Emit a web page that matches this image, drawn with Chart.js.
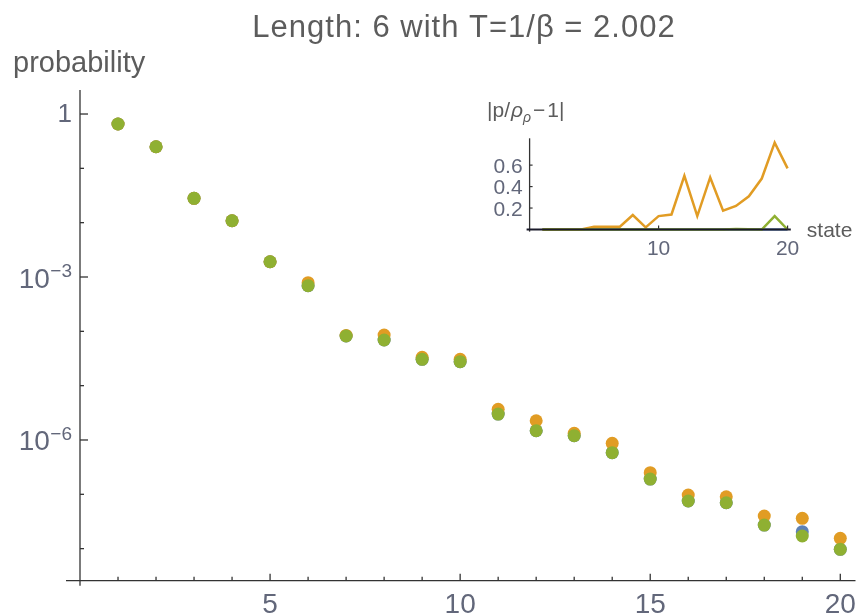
<!DOCTYPE html>
<html>
<head>
<meta charset="utf-8">
<script src="https://cdn.jsdelivr.net/npm/chart.js@4/dist/chart.umd.min.js"></script>
<style>
html,body{margin:0;padding:0;background:#fff;}
#wrap{position:relative;width:862px;height:616px;overflow:hidden;}
#main{position:absolute;left:0;top:0;}
#inset{position:absolute;left:440px;top:90px;}
</style>
</head>
<body>
<div id="wrap">
<canvas id="main" width="862" height="616"></canvas>
<canvas id="inset" width="422" height="180"></canvas>
</div>
<script>
// ---------- data ----------
const states = [1,2,3,4,5,6,7,8,9,10,11,12,13,14,15,16,17,18,19,20];

// probabilities (main log plot)
const pBlue   = [0.655,0.25,0.0281,0.01086,0.00191,6.92e-4,8.2e-5,6.92e-5,3.05e-5,2.76e-5,3.0e-6,1.48e-6,1.2e-6,5.83e-7,1.91e-7,7.53e-8,7.0e-8,2.72e-8,2.05e-8,9.7e-9];
const pOrange = [0.655,0.25,0.0281,0.01086,0.00191,7.85e-4,8.4e-5,8.55e-5,3.33e-5,3.05e-5,3.67e-6,2.26e-6,1.33e-6,8.69e-7,2.5e-7,9.7e-8,9.0e-8,3.99e-8,3.61e-8,1.55e-8];
const pGreen  = [0.655,0.25,0.0281,0.01086,0.00191,6.92e-4,8.2e-5,6.92e-5,3.05e-5,2.76e-5,3.0e-6,1.48e-6,1.2e-6,5.83e-7,1.91e-7,7.53e-8,7.0e-8,2.72e-8,1.71e-8,9.7e-9];

// relative deviation |p/p_rho - 1| (inset)
const devBlue   = [0,0,0,0,0,0,0,0,0,0,0,0,0,0,0,0,0,0,0,0];
const devOrange = [0,0,0,0,0.025,0.026,0.026,0.135,0.02,0.125,0.14,0.50,0.125,0.485,0.175,0.22,0.31,0.475,0.81,0.57];
const devGreen  = [0,0,0,0,0,0,0,0,0,0,0,0,0,0,0,0.005,0.003,0,0.125,0];

// tick labels
const yLabelExps  = [0,-3,-6];
const yTickExps   = [0,-1,-2,-3,-4,-5,-6,-7,-8];
const xLabelTicks = [5,10,15,20];
const insetYTicks = [0.2,0.4,0.6];
const insetXTicks = [10,20];

const titleText = 'Length: 6 with T=1/\u03B2 = 2.002';
const yAxisTitle = 'probability';

// ---------- styling ----------
const BLUE = 'rgb(94,129,181)', ORANGE = 'rgb(225,156,36)', GREEN = 'rgb(143,176,50)';
const TXT = '#5c5c5c', TICKTXT = '#62677a', AX = '#333';
const FF = '"Liberation Sans", Arial, sans-serif';

function mkPts(xs, ys){ return xs.map((v,i)=>({x:v, y:ys[i]})); }
function seg(ctx,x1,y1,x2,y2){ ctx.beginPath(); ctx.moveTo(x1,y1); ctx.lineTo(x2,y2); ctx.stroke(); }

const mainDecor = {
  id:'mainDecor',
  beforeDatasetsDraw(chart){
    const {ctx, chartArea:a, scales:{x,y}} = chart;
    ctx.save();
    ctx.strokeStyle = AX; ctx.lineWidth = 1.3;
    const x0 = x.getPixelForValue(0);
    seg(ctx, x0, a.top, x0, a.bottom+5);
    seg(ctx, x0-14, a.bottom, a.right, a.bottom);
    yTickExps.forEach(e=>{
      const py = y.getPixelForValue(Math.pow(10,e));
      const len = yLabelExps.includes(e) ? 8 : 4;
      seg(ctx, x0, py, x0+len, py);
    });
    states.forEach(s=>{
      const px = x.getPixelForValue(s);
      const len = xLabelTicks.includes(s) ? 7 : 4;
      seg(ctx, px, a.bottom, px, a.bottom-len);
    });
    ctx.restore();
  },
  afterDraw(chart){
    const {ctx, chartArea:a, scales:{x,y}} = chart;
    const x0 = x.getPixelForValue(0);
    ctx.save();
    ctx.fillStyle = TXT;
    // title
    ctx.font = '31px ' + FF; ctx.textAlign = 'center'; ctx.textBaseline = 'alphabetic';
    try { ctx.letterSpacing = '1px'; } catch(e) {}
    ctx.fillText(titleText, 464, 37);
    try { ctx.letterSpacing = '0px'; } catch(e) {}
    // y axis title
    ctx.font = '29px ' + FF; ctx.textAlign = 'left';
    ctx.fillText(yAxisTitle, 13, 72);
    // y labels
    ctx.fillStyle = TICKTXT;
    const rx = x0 - 8;
    yLabelExps.forEach(e=>{
      const py = y.getPixelForValue(Math.pow(10,e));
      ctx.textAlign = 'right';
      if (e === 0){
        ctx.font = '26px ' + FF;
        ctx.fillText('1', rx, py + 8);
      } else {
        ctx.font = '19px ' + FF;
        const sup = '\u2212' + Math.abs(e);
        ctx.fillText(sup, rx, py);
        const w = ctx.measureText(sup).width;
        ctx.font = '28px ' + FF;
        ctx.fillText('10', rx - w - 0.5, py + 10.5);
      }
    });
    // x labels
    ctx.font = '28px ' + FF; ctx.textAlign = 'center';
    xLabelTicks.forEach(s=>{
      ctx.fillText(String(s), x.getPixelForValue(s), a.bottom + 32);
    });
    ctx.restore();
  }
};

new Chart(document.getElementById('main'), {
  type:'scatter',
  data:{ datasets:[
    {label:'blue',   data:mkPts(states,pBlue),   backgroundColor:BLUE,   borderWidth:0, pointRadius:6.5, order:3},
    {label:'orange', data:mkPts(states,pOrange), backgroundColor:ORANGE, borderWidth:0, pointRadius:6.5, order:2},
    {label:'green',  data:mkPts(states,pGreen),  backgroundColor:GREEN,  borderWidth:0, pointRadius:6.5, order:1}
  ]},
  options:{
    responsive:false, animation:false, devicePixelRatio:1,
    layout:{padding:{left:80, top:90, right:0, bottom:35.3}},
    plugins:{legend:{display:false}, tooltip:{enabled:false}, title:{display:false}},
    scales:{
      x:{type:'linear', min:0, max:20.4, display:false},
      y:{type:'logarithmic', min:Math.pow(10,-8.59), max:Math.pow(10,0.442), display:false}
    }
  },
  plugins:[mainDecor]
});

const insetDecor = {
  id:'insetDecor',
  afterDatasetsDraw(chart){
    const {ctx, chartArea:a, scales:{x,y}} = chart;
    const x0 = x.getPixelForValue(0), y0 = y.getPixelForValue(0);
    ctx.save();
    ctx.strokeStyle = AX; ctx.lineWidth = 1.3;
    seg(ctx, x0, a.top, x0, a.bottom);
    ctx.strokeStyle = '#1a1a2a'; ctx.lineWidth = 2;
    seg(ctx, x0-3, y0, a.right, y0);
    ctx.strokeStyle = AX; ctx.lineWidth = 1.2;
    insetYTicks.forEach(v=>{ const py=y.getPixelForValue(v); seg(ctx,x0,py,x0+3,py); });
    insetXTicks.forEach(v=>{ const px=x.getPixelForValue(v); seg(ctx,px,y0,px,y0-4); });
    ctx.fillStyle = TICKTXT;
    ctx.font = '21px ' + FF; ctx.textAlign = 'right'; ctx.textBaseline = 'alphabetic';
    insetYTicks.forEach(v=>{ ctx.fillText(v.toFixed(1), x0 - 7, y.getPixelForValue(v) + 7.5); });
    ctx.textAlign = 'center';
    insetXTicks.forEach(v=>{ ctx.fillText(String(v), x.getPixelForValue(v), y0 + 25.5); });
    ctx.fillStyle = TXT;
    ctx.textAlign = 'left';
    ctx.fillText('state', a.right + 16, y0 + 7);
    // |p/ρ_ρ − 1|
    let cx = 47; const by = 27;
    ctx.font = '21px ' + FF; ctx.fillText('|p/', cx, by); cx += ctx.measureText('|p/').width + 1;
    ctx.font = 'italic 21px ' + FF; ctx.fillText('\u03C1', cx, by); cx += ctx.measureText('\u03C1').width;
    ctx.font = 'italic 14px ' + FF; ctx.fillText('\u03C1', cx, by + 5); cx += ctx.measureText('\u03C1').width + 2;
    ctx.font = '21px ' + FF; ctx.fillText('\u2212', cx, by); cx += ctx.measureText('\u2212').width + 2;
    ctx.fillText('1|', cx, by);
    ctx.restore();
  }
};

new Chart(document.getElementById('inset'), {
  type:'scatter',
  data:{ datasets:[
    {label:'blue',   data:mkPts(states,devBlue),   showLine:true, borderColor:BLUE,   borderWidth:2.5, pointRadius:0, order:3},
    {label:'orange', data:mkPts(states,devOrange), showLine:true, borderColor:ORANGE, borderWidth:2.5, pointRadius:0, order:2},
    {label:'green',  data:mkPts(states,devGreen),  showLine:true, borderColor:GREEN,  borderWidth:2.5, pointRadius:0, order:1}
  ]},
  options:{
    responsive:false, animation:false, devicePixelRatio:1,
    layout:{padding:{left:89.6, top:48.3, right:71.2, bottom:38.35}},
    plugins:{legend:{display:false}, tooltip:{enabled:false}, title:{display:false}},
    scales:{
      x:{type:'linear', min:0, max:20.25, display:false},
      y:{type:'linear', min:-0.02, max:0.85, display:false}
    }
  },
  plugins:[insetDecor]
});
</script>
</body>
</html>
